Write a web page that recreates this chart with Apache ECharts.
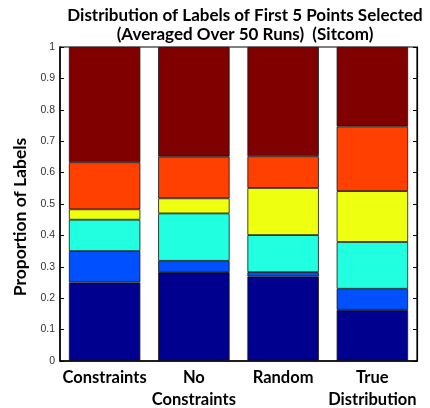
<!DOCTYPE html>
<html><head><meta charset="utf-8">
<script src="https://cdn.jsdelivr.net/npm/echarts@6/dist/echarts.min.js"></script>
<style>html,body{margin:0;padding:0;background:#fff}#c{width:430px;height:408px}</style>
</head><body><div id="c"></div>
<script>
const categories = ['Constraints', 'No\nConstraints', 'Random', 'True\nDistribution'];
const seriesNames = ['Label 1', 'Label 2', 'Label 3', 'Label 4', 'Label 5', 'Label 6'];
const label1 = [0.250, 0.283, 0.269, 0.163];
const label2 = [0.100, 0.036, 0.014, 0.067];
const label3 = [0.100, 0.151, 0.118, 0.149];
const label4 = [0.033, 0.048, 0.150, 0.162];
const label5 = [0.150, 0.133, 0.101, 0.206];
const label6 = [0.367, 0.349, 0.348, 0.253];
const yTicks = ['0','0.1','0.2','0.3','0.4','0.5','0.6','0.7','0.8','0.9','1'];
const colors = ['#00008F', '#0050FF', '#20FFDF', '#EEFF10', '#FF4000', '#800000'];
const values = [label1, label2, label3, label4, label5, label6];

const chart = echarts.init(document.getElementById('c'));
chart.setOption({
  animation: false,
  title: {
    text: 'Distribution of Labels of First 5 Points Selected\n(Averaged Over 50 Runs)  (Sitcom)',
    left: 240, top: 1, textAlign: 'center',
    textStyle: {fontFamily: 'Lato', fontWeight: 'bold', fontSize: 17, color: '#000', lineHeight: 19}
  },
  grid: {left: 60, right: 13, top: 47, bottom: 47, show: true, borderColor: '#000', borderWidth: 1.2,
    outerBoundsMode: 'none', containLabel: false},
  xAxis: {
    type: 'category', data: categories,
    axisLine: {lineStyle: {color: '#000', width: 1.5}},
    axisTick: {show: false},
    axisLabel: {fontFamily: 'Lato', fontWeight: 'bold', fontSize: 16.5, color: '#000', margin: 6, lineHeight: 22, interval: 0}
  },
  yAxis: [{
    type: 'value', min: 0, max: 1, interval: 0.1,
    name: 'Proportion of Labels', nameLocation: 'middle', nameGap: 30,
    nameTextStyle: {fontFamily: 'Lato', fontWeight: 'bold', fontSize: 17.5, color: '#000', padding: [0, 26, 0, 0]},
    axisLine: {show: true, lineStyle: {color: '#000', width: 1.5}},
    axisTick: {show: true, inside: true, length: 4, lineStyle: {color: '#000'}},
    axisLabel: {fontFamily: 'Liberation Sans', fontSize: 10.5, color: '#333', margin: 5,
      formatter: (v) => yTicks[Math.round(v * 10)]},
    splitLine: {show: false}
  }, {
    type: 'value', min: 0, max: 1, interval: 0.1, position: 'right',
    axisLine: {show: true, lineStyle: {color: '#000', width: 1.2}},
    axisTick: {show: true, inside: true, length: 4, lineStyle: {color: '#000'}},
    axisLabel: {show: false}, splitLine: {show: false}
  }],
  series: values.map((d, i) => ({
    name: seriesNames[i], type: 'bar', stack: 'total', data: d,
    barWidth: '80%',
    itemStyle: {color: colors[i], borderColor: '#111', borderWidth: 0.8}
  }))
});
</script></body></html>
